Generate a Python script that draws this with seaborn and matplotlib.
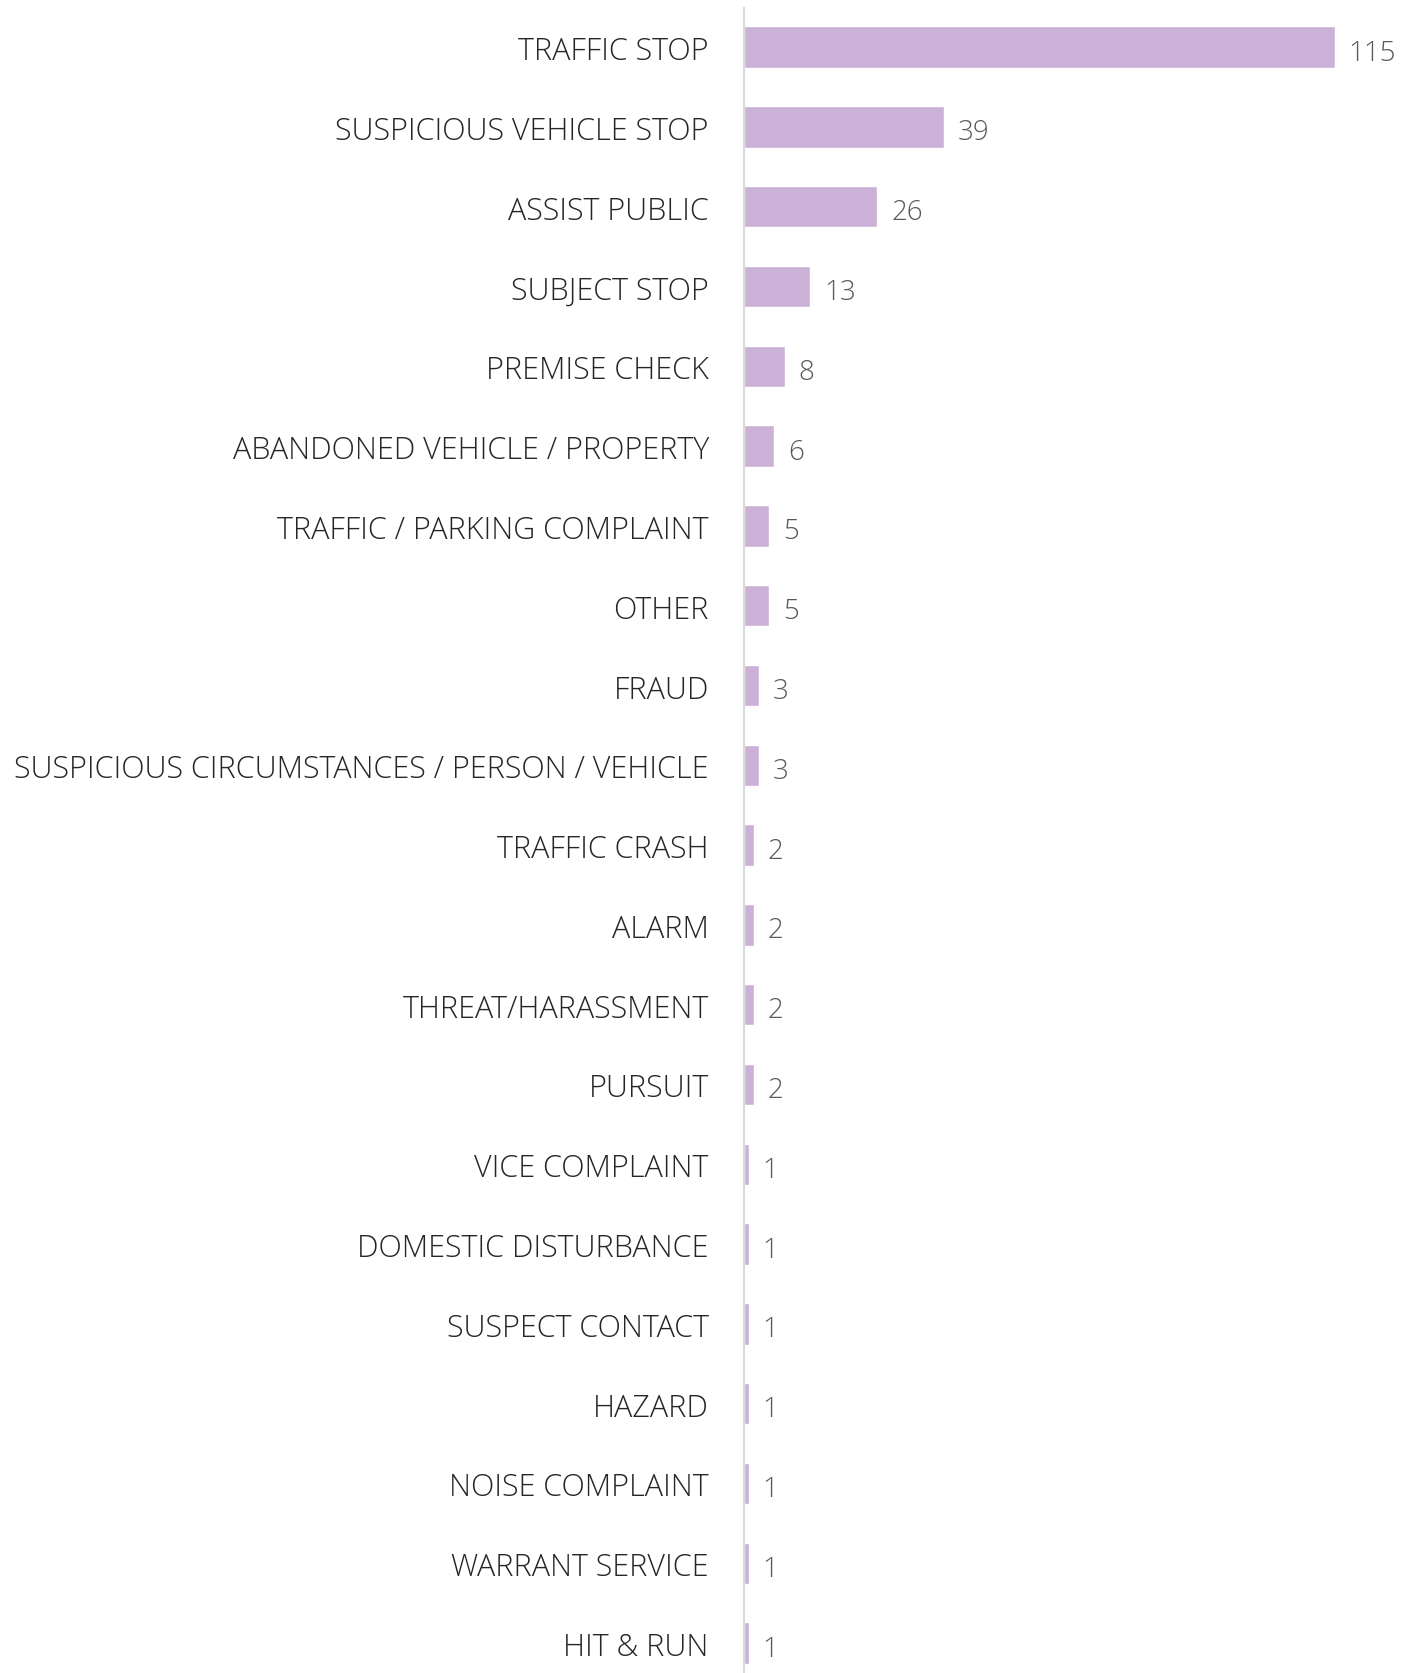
import matplotlib
matplotlib.use("Agg")
import matplotlib.pyplot as plt
import seaborn as sns
import pandas as pd

categories = [
    "TRAFFIC STOP",
    "SUSPICIOUS VEHICLE STOP",
    "ASSIST PUBLIC",
    "SUBJECT STOP",
    "PREMISE CHECK",
    "ABANDONED VEHICLE / PROPERTY",
    "TRAFFIC / PARKING COMPLAINT",
    "OTHER",
    "FRAUD",
    "SUSPICIOUS CIRCUMSTANCES / PERSON / VEHICLE",
    "TRAFFIC CRASH",
    "ALARM",
    "THREAT/HARASSMENT",
    "PURSUIT",
    "VICE COMPLAINT",
    "DOMESTIC DISTURBANCE",
    "SUSPECT CONTACT",
    "HAZARD",
    "NOISE COMPLAINT",
    "WARRANT SERVICE",
    "HIT & RUN",
]
counts = [115, 39, 26, 13, 8, 6, 5, 5, 3, 3, 2, 2, 2, 2, 1, 1, 1, 1, 1, 1, 1]

df = pd.DataFrame({"category": categories, "count": counts})

sns.set_style("white")
plt.rcParams["font.family"] = ["Open Sans", "DejaVu Sans"]

fig = plt.figure(figsize=(14.03, 16.74), dpi=100)
ax = fig.add_axes([0.530, 0.0, 0.470, 0.9946])

sns.barplot(data=df, x="count", y="category", orient="h", color="#cbb1d7",
            saturation=1, width=0.52, ax=ax)

# value labels, nudged a bit below bar centre like the original
labels = ax.bar_label(ax.containers[0], padding=10, fontsize=20,
                      color="#595959", fontweight="light")
for lab in labels:
    lab.xyann = (10, -4)

ax.set_xlim(0, 128.3)
ax.set_ylim(20.375, -0.49)
ax.set_xlabel("")
ax.set_ylabel("")
ax.set_xticks([])
for s in ["top", "right", "bottom"]:
    ax.spines[s].set_visible(False)
ax.spines["left"].set_color("#d9d9d9")
ax.spines["left"].set_linewidth(1.5)
ax.tick_params(axis="y", length=0, pad=25)
for t in ax.get_yticklabels():
    t.set_fontsize(22)
    t.set_fontweight("light")
    t.set_color("#262626")

fig.savefig("out.png", dpi=100)
